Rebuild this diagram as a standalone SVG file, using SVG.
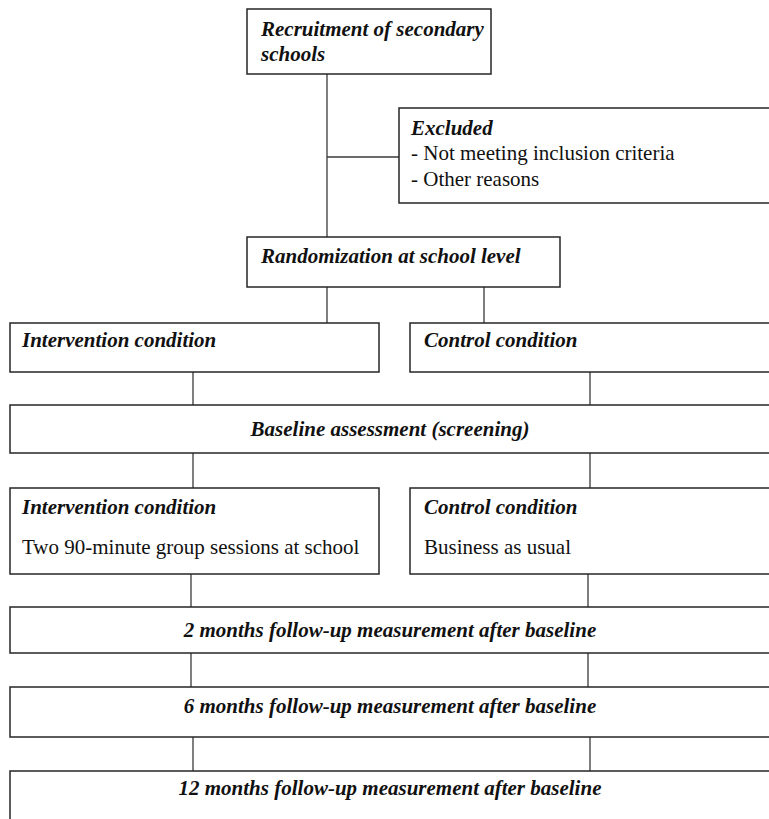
<svg xmlns="http://www.w3.org/2000/svg" width="769" height="819" viewBox="0 0 769 819">
<style>
.box{fill:#fff;stroke:#262626;stroke-width:1.5}
.ln{stroke:#3a3a3a;stroke-width:1.3;fill:none}
.h{font-family:"Liberation Serif","Times New Roman",Times,"DejaVu Serif",serif;font-weight:bold;font-style:italic;font-size:21px;fill:#111}
.t{font-family:"Liberation Serif","Times New Roman",Times,"DejaVu Serif",serif;font-size:21px;fill:#111}
.c{text-anchor:middle}
</style>
<rect width="769" height="819" fill="#fff"/>
<g id="connectors">
<line class="ln" x1="327" y1="74" x2="327" y2="237"/>
<line class="ln" x1="327" y1="157" x2="399" y2="157"/>
<line class="ln" x1="327" y1="287" x2="327" y2="323"/>
<line class="ln" x1="484" y1="287" x2="484" y2="323"/>
<line class="ln" x1="193" y1="372" x2="193" y2="405"/>
<line class="ln" x1="590" y1="372" x2="590" y2="405"/>
<line class="ln" x1="193" y1="453" x2="193" y2="488"/>
<line class="ln" x1="590" y1="453" x2="590" y2="488"/>
<line class="ln" x1="191" y1="574" x2="191" y2="607"/>
<line class="ln" x1="588" y1="574" x2="588" y2="607"/>
<line class="ln" x1="191" y1="653" x2="191" y2="687"/>
<line class="ln" x1="588" y1="653" x2="588" y2="687"/>
<line class="ln" x1="193" y1="737" x2="193" y2="771"/>
<line class="ln" x1="590" y1="737" x2="590" y2="771"/>
</g>
<g id="recruitment">
<rect class="box" x="247" y="9" width="244" height="65"/>
<text class="h" x="261" y="36">Recruitment of secondary</text>
<text class="h" x="261" y="61">schools</text>
</g>
<g id="excluded">
<rect class="box" x="399" y="108" width="380" height="95"/>
<text class="h" x="411" y="135">Excluded</text>
<text class="t" x="411" y="160">- Not meeting inclusion criteria</text>
<text class="t" x="411" y="186">- Other reasons</text>
</g>
<g id="randomization">
<rect class="box" x="247" y="237" width="313" height="50"/>
<text class="h" x="261" y="263">Randomization at school level</text>
</g>
<g id="intervention1">
<rect class="box" x="10" y="323" width="369" height="49"/>
<text class="h" x="22" y="347">Intervention condition</text>
</g>
<g id="control1">
<rect class="box" x="410" y="323" width="369" height="49"/>
<text class="h" x="424" y="347">Control condition</text>
</g>
<g id="baseline">
<rect class="box" x="10" y="405" width="769" height="48"/>
<text class="h c" x="390" y="436">Baseline assessment (screening)</text>
</g>
<g id="intervention2">
<rect class="box" x="10" y="488" width="369" height="86"/>
<text class="h" x="22" y="514">Intervention condition</text>
<text class="t" x="22" y="554">Two 90-minute group sessions at school</text>
</g>
<g id="control2">
<rect class="box" x="410" y="488" width="369" height="86"/>
<text class="h" x="424" y="514">Control condition</text>
<text class="t" x="424" y="554">Business as usual</text>
</g>
<g id="followup2">
<rect class="box" x="10" y="607" width="769" height="46"/>
<text class="h c" x="390" y="637">2 months follow-up measurement after baseline</text>
</g>
<g id="followup6">
<rect class="box" x="10" y="687" width="769" height="50"/>
<text class="h c" x="390" y="713">6 months follow-up measurement after baseline</text>
</g>
<g id="followup12">
<rect class="box" x="10" y="771" width="769" height="60"/>
<text class="h c" x="390" y="795">12 months follow-up measurement after baseline</text>
</g>
</svg>
